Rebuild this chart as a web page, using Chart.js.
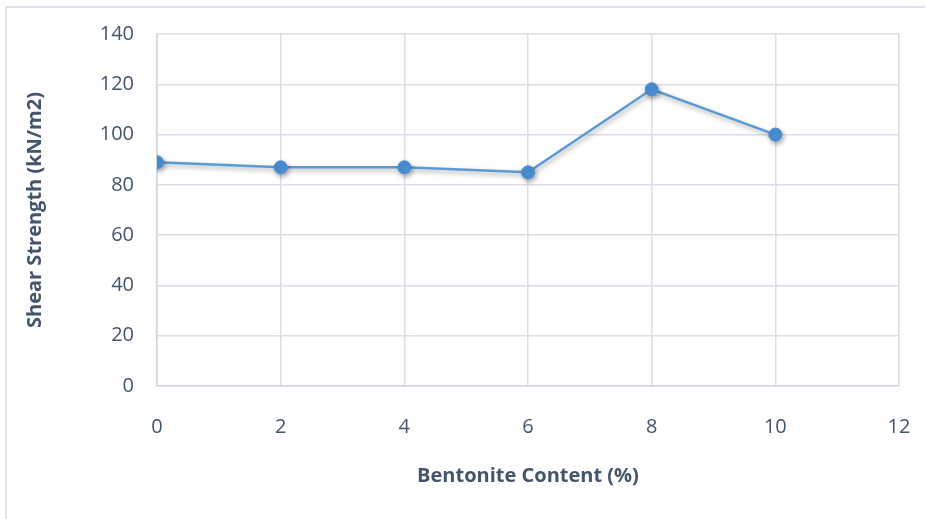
<!DOCTYPE html>
<html>
<head>
<meta charset="utf-8">
<script src="https://cdn.jsdelivr.net/npm/chart.js@4/dist/chart.umd.min.js"></script>
<style>
  html, body { margin: 0; padding: 0; background: #fff; }
  #wrap { position: relative; width: 926px; height: 519px; }
</style>
</head>
<body>
<div id="wrap"><canvas id="shear"></canvas></div>
<script>
// bentonite content (%) vs shear strength (kN/m2)
const bentonite = [0, 2, 4, 6, 8, 10];
const shearStrength = [89, 87, 87, 85, 118, 100];
const xTicks = [0, 2, 4, 6, 8, 10, 12];
const yTicks = [0, 20, 40, 60, 80, 100, 120, 140];

const textColor = "#44546a";
const gridColor = "#d9dee7";
const lineColor = "#5b9bd5";
const markerColor = "#4a8fd6";

// thin frame around the whole chart
const framePlugin = {
  id: "frame",
  beforeDraw(chart) {
    const ctx = chart.ctx;
    ctx.save();
    ctx.strokeStyle = "#dfe3ea";
    ctx.lineWidth = 2;
    ctx.beginPath();
    ctx.moveTo(6, chart.height);
    ctx.lineTo(6, 7);
    ctx.lineTo(925, 7);
    ctx.stroke();
    ctx.restore();
  },
};

// soft drop shadow under the line and markers
const shadowPlugin = {
  id: "shadow",
  beforeDatasetsDraw(chart) {
    const ctx = chart.ctx;
    ctx.save();
    ctx.shadowColor = "rgba(0,0,0,0.35)";
    ctx.shadowBlur = 5;
    ctx.shadowOffsetX = 1.5;
    ctx.shadowOffsetY = 2.5;
  },
  afterDatasetsDraw(chart) {
    chart.ctx.restore();
  },
};

const points = bentonite.map((x, i) => ({ x: x, y: shearStrength[i] }));

new Chart(document.getElementById("shear").getContext("2d"), {
  type: "line",
  data: {
    datasets: [
      {
        label: "Shear Strength",
        data: points,
        borderColor: lineColor,
        borderWidth: 2.5,
        backgroundColor: markerColor,
        pointBackgroundColor: markerColor,
        pointBorderColor: markerColor,
        pointBorderWidth: 1,
        pointRadius: 6.5,
        tension: 0,
      },
    ],
  },
  options: {
    responsive: true,
    maintainAspectRatio: false,
    animation: false,
    layout: { padding: { left: 0, top: 34, right: 27, bottom: 0 } },
    plugins: {
      legend: { display: false },
      tooltip: { enabled: false },
    },
    scales: {
      x: {
        type: "linear",
        min: xTicks[0],
        max: xTicks[xTicks.length - 1],
        afterBuildTicks: (axis) => {
          axis.ticks = xTicks.map((v) => ({ value: v }));
        },
        afterFit: (axis) => {
          axis.height = 133;
          axis.paddingLeft = 0;
          axis.paddingRight = 0;
        },
        grid: { color: gridColor, lineWidth: 1.5, drawTicks: false },
        border: { color: "#cfd5de", width: 1.5 },
        ticks: {
          color: textColor,
          padding: 29,
          font: { family: "'Open Sans'", size: 20 },
        },
        title: {
          display: true,
          text: "Bentonite Content (%)",
          color: textColor,
          font: { family: "'Open Sans'", size: 20, weight: "bold" },
          padding: { top: 0, bottom: 31 },
        },
      },
      y: {
        min: yTicks[0],
        max: yTicks[yTicks.length - 1],
        afterBuildTicks: (axis) => {
          axis.ticks = yTicks.map((v) => ({ value: v }));
        },
        afterFit: (axis) => {
          axis.width = 157;
          axis.paddingTop = 0;
          axis.paddingBottom = 0;
        },
        grid: { color: gridColor, lineWidth: 1.5, drawTicks: false },
        border: { color: "#cfd5de", width: 1.5 },
        ticks: {
          color: textColor,
          padding: 23,
          font: { family: "'Open Sans'", size: 20 },
        },
        title: {
          display: true,
          text: "Shear Strength (kN/m2)",
          color: textColor,
          font: { family: "'Open Sans'", size: 20, weight: "bold" },
          padding: { top: 23, bottom: 0 },
        },
      },
    },
  },
  plugins: [framePlugin, shadowPlugin],
});
</script>
</body>
</html>
